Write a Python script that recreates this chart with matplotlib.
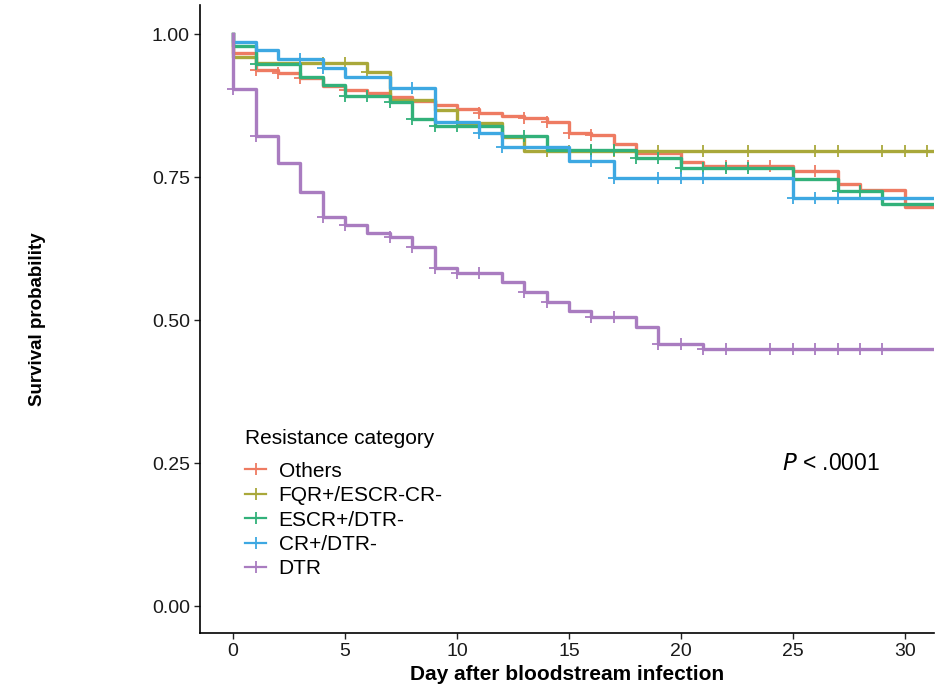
# Kaplan-Meier curves by resistance category
# step curves with censor marks, legend inside the panel

import matplotlib.pyplot as plt
from matplotlib.lines import Line2D
import numpy as np

plt.rcParams['font.family'] = ['Liberation Sans', 'DejaVu Sans']

# follow-up end (days)
t_end = 31.3

# Others
others_t = [0, 1, 2, 3, 4, 5, 6, 7, 8, 9, 10, 11, 12, 13, 14, 15, 16, 17, 18, 20, 21, 25, 27, 28, 30]
others_s = [0.967, 0.938, 0.932, 0.923, 0.909, 0.902, 0.897, 0.890, 0.884, 0.876, 0.869, 0.862, 0.857,
            0.853, 0.846, 0.827, 0.823, 0.808, 0.792, 0.777, 0.769, 0.761, 0.738, 0.727, 0.698]
others_c = [1, 2, 3, 5, 11, 13, 14, 15, 16, 22, 23, 24, 26]

# FQR+/ESCR-CR-
fqr_t = [0, 1, 6, 7, 9, 10, 12, 13]
fqr_s = [0.960, 0.949, 0.934, 0.885, 0.867, 0.844, 0.820, 0.795]
fqr_c = [3, 4, 5, 6, 14, 15, 16, 17, 19, 21, 23, 26, 27, 29, 30, 31]

# ESCR+/DTR-
escr_t = [0, 1, 3, 4, 5, 7, 8, 9, 12, 14, 18, 20, 25, 27, 29]
escr_s = [0.979, 0.948, 0.925, 0.911, 0.892, 0.881, 0.851, 0.839, 0.822, 0.797, 0.783, 0.766,
          0.747, 0.726, 0.703]
escr_c = [1, 5, 6, 7, 8, 9, 10, 13, 16, 17, 18, 19, 20, 21, 22, 23, 27, 28]

# CR+/DTR-
cr_t = [0, 1, 2, 4, 5, 7, 9, 11, 12, 15, 17, 25]
cr_s = [0.986, 0.972, 0.956, 0.941, 0.925, 0.906, 0.846, 0.827, 0.802, 0.778, 0.748, 0.713]
cr_c = [3, 4, 8, 11, 12, 16, 17, 19, 20, 21, 25, 26, 27]

# DTR
dtr_t = [0, 1, 2, 3, 4, 5, 6, 7, 8, 9, 10, 12, 13, 14, 15, 16, 18, 19, 21]
dtr_s = [0.905, 0.822, 0.774, 0.724, 0.680, 0.666, 0.652, 0.645, 0.628, 0.591, 0.582, 0.566,
         0.549, 0.532, 0.516, 0.505, 0.488, 0.458, 0.449]
dtr_c = [0, 1, 4, 5, 7, 8, 9, 10, 11, 13, 14, 16, 17, 19, 20, 21, 22, 24, 25, 26, 27, 28, 29]

labels = ['Others', 'FQR+/ESCR-CR-', 'ESCR+/DTR-', 'CR+/DTR-', 'DTR']
colors = ['#EE7B62', '#A9A83A', '#32B17A', '#3DA8E2', '#A97CC0']
series = [(others_t, others_s, others_c), (fqr_t, fqr_s, fqr_c), (escr_t, escr_s, escr_c),
          (cr_t, cr_s, cr_c), (dtr_t, dtr_s, dtr_c)]

fig = plt.figure(figsize=(9.49, 6.87), dpi=100, facecolor='w')
ax = fig.add_axes([0.211, 0.0786, 0.773, 0.914])

for (t, s, c), col in zip(series, colors):
    tt = np.array([0] + t + [t_end], dtype=float)
    ss = np.array([1.0] + s + [s[-1]])
    ax.step(tt, ss, where='post', color=col, linewidth=2.4)
    # censor marks sit on the curve value at that time
    idx = np.searchsorted(tt, c, side='right') - 1
    ax.plot(c, ss[idx], linestyle='none', marker='+', color=col, markersize=8, markeredgewidth=1.3)

ax.set_xlim(-1.47, 31.3)
ax.set_ylim(-0.047, 1.051)
ax.set_xticks([0, 5, 10, 15, 20, 25, 30])
ax.set_yticks([0, 0.25, 0.5, 0.75, 1.0])
ax.set_yticklabels(['0.00', '0.25', '0.50', '0.75', '1.00'])
ax.tick_params(axis='both', labelsize=14, length=4, width=1.0, color='#222222', labelcolor='#1a1a1a')
ax.spines['top'].set_visible(False)
ax.spines['right'].set_visible(False)
ax.spines['left'].set_linewidth(1.2)
ax.spines['bottom'].set_linewidth(1.2)

ax.set_xlabel('Day after bloodstream infection', fontsize=15, fontweight='bold', labelpad=3)
ax.set_ylabel('Survival probability', fontsize=13.5, fontweight='bold', labelpad=76)

ax.text(24.5, 0.25, '$P$ < .0001', fontsize=16.5, va='center', ha='left')

handles = [Line2D([], [], color=col, marker='+', linewidth=1.6, markersize=8, markeredgewidth=1.3)
           for col in colors]
leg = ax.legend(handles, labels, title='Resistance category', loc='upper left',
                bbox_to_anchor=(0.243, 0.397), bbox_transform=fig.transFigure,
                frameon=False, fontsize=15, title_fontsize=15, handlelength=1.0,
                labelspacing=0.26, handletextpad=0.6, borderpad=0.2)
leg._legend_box.align = 'left'
leg._legend_box.sep = 10

plt.savefig('out.png', dpi=100)
